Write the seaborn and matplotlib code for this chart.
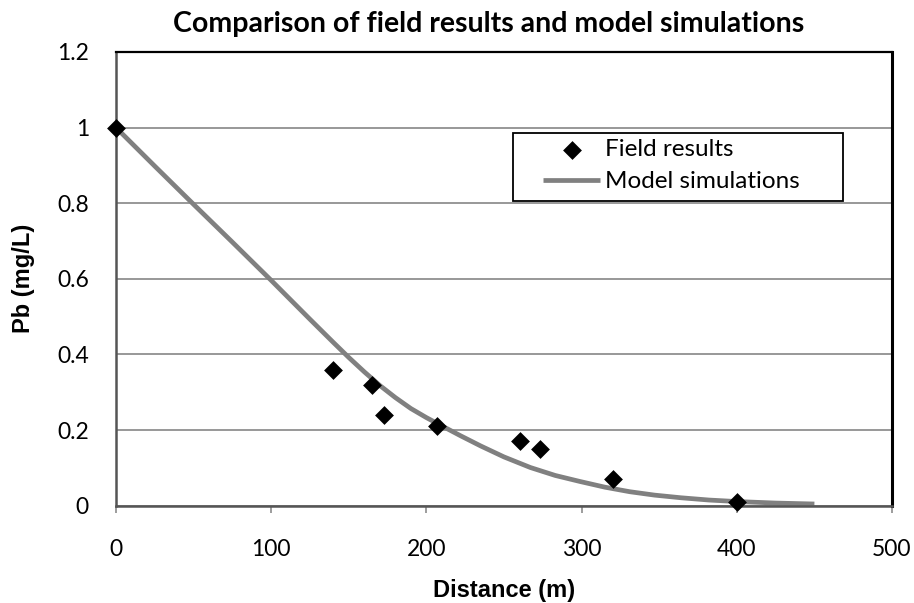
import matplotlib
matplotlib.use("Agg")
import matplotlib.pyplot as plt
import matplotlib.patches as mpatches
import seaborn as sns
import pandas as pd

# Field results
field_distance = [0, 140, 165, 173, 207, 260, 273, 320, 400]
field_pb = [1.0, 0.36, 0.32, 0.24, 0.21, 0.17, 0.15, 0.07, 0.01]

# Model simulation curve
model_distance = [0, 25, 50, 75, 100, 125, 140, 150, 160, 170, 180, 190, 200, 210, 222, 235, 250, 267, 283, 299, 315, 331, 347, 364, 382, 400, 425, 450]
model_pb = [1.0, 0.898, 0.797, 0.697, 0.596, 0.493, 0.432, 0.392, 0.354, 0.318, 0.286, 0.257, 0.233, 0.211, 0.185, 0.158, 0.129, 0.101, 0.080, 0.064, 0.049, 0.037, 0.028, 0.021, 0.015, 0.011, 0.007, 0.0045]

x_ticks = [0, 100, 200, 300, 400, 500]
y_ticks = [0, 0.2, 0.4, 0.6, 0.8, 1.0, 1.2]
y_tick_labels = ["0", "0.2", "0.4", "0.6", "0.8", "1", "1.2"]

title = "Comparison of field results and model simulations"
x_label = "Distance (m)"
y_label = "Pb (mg/L)"
series_names = ["Field results", "Model simulations"]

field_df = pd.DataFrame({"Distance": field_distance, "Pb": field_pb})
model_df = pd.DataFrame({"Distance": model_distance, "Pb": model_pb})

sns.set_theme(style="white")
plt.rcParams["font.family"] = ["Lato", "DejaVu Sans"]

W, H = 914, 603
fig = plt.figure(figsize=(W / 100, H / 100), dpi=100)
L, R, T, B = 116, 892, 52, 505.7
ax = fig.add_axes([L / W, 1 - B / H, (R - L) / W, (B - T) / H])

sns.lineplot(data=model_df, x="Distance", y="Pb", ax=ax, color="#808080",
             linewidth=3.4, label=series_names[1], zorder=2,
             solid_capstyle="butt", solid_joinstyle="round")
sns.scatterplot(data=field_df, x="Distance", y="Pb", ax=ax, marker="D",
                s=92, color="black", linewidth=0, label=series_names[0],
                zorder=4, clip_on=False)

ax.set_xlim(0, 500)
ax.set_ylim(0, 1.2)
ax.set_xticks(x_ticks)
ax.set_xticklabels([str(v) for v in x_ticks])
ax.set_yticks(y_ticks)
ax.set_yticklabels(y_tick_labels)

ax.yaxis.grid(True, color="#868686", linewidth=1.2)
ax.xaxis.grid(False)
ax.set_axisbelow(True)

for side in ["top", "right"]:
    ax.spines[side].set_color("black")
ax.spines["top"].set_linewidth(1.6)
ax.spines["right"].set_linewidth(2.2)
for side in ["left", "bottom"]:
    ax.spines[side].set_color("#555555")
    ax.spines[side].set_linewidth(1.8)

ax.tick_params(axis="x", which="major", bottom=True, length=5, width=1.2,
               color="#8c8c8c", direction="out", pad=19, labelsize=16.5,
               labelcolor="black")
ax.tick_params(axis="y", which="major", left=False, length=0, pad=19.5,
               labelsize=16.5, labelcolor="black")

ax.set_xlabel(x_label, fontsize=17, fontweight="bold",
              family=["Liberation Sans", "DejaVu Sans"], labelpad=14, color="black")
ax.set_ylabel(y_label, fontsize=17, fontweight="bold",
              family=["Liberation Sans", "DejaVu Sans"], labelpad=16, color="black")

fig.text(488.5 / W, 1 - 24 / H, title, ha="center", va="center",
         fontsize=20.5, fontweight="bold", color="black")

# Legend
handles, labels = ax.get_legend_handles_labels()
order = [labels.index(series_names[0]), labels.index(series_names[1])]
leg = ax.legend([handles[i] for i in order], [labels[i] for i in order],
                loc="upper left", bbox_to_anchor=(543 / W, 1 - 139 / H),
                bbox_transform=fig.transFigure, frameon=False,
                borderpad=0, borderaxespad=0, handlelength=2.35,
                handletextpad=0.2, labelspacing=0.47, fontsize=17.5)
for t in leg.get_texts():
    t.set_color("black")
frame = mpatches.Rectangle((512.7 / W, 1 - 200.7 / H), 330.6 / W, 68 / H,
                           transform=fig.transFigure, fill=True,
                           facecolor="white", edgecolor="black",
                           linewidth=1.3, zorder=5)
ax.add_artist(frame)
frame.set_clip_on(False)
leg.set_zorder(6)

fig.savefig("out.png", dpi=100)
